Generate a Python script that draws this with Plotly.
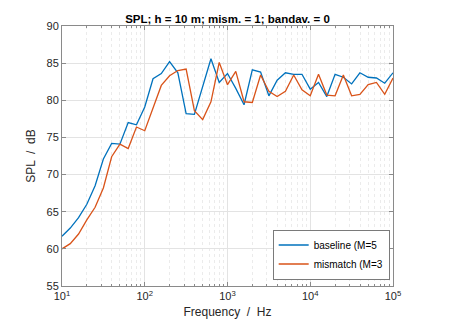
import numpy as np
import plotly.graph_objects as go

# 1/3-octave band centre frequencies, 10 Hz .. 100 kHz
band_exponent = [1 + k / 10 for k in range(41)]
freq = [10 ** e for e in band_exponent]

baseline = [61.7, 62.8, 64.2, 66.0, 68.5, 72.1, 74.2, 74.1, 77.0, 76.7,
            79.1, 82.9, 83.6, 85.2, 83.7, 78.2, 78.1, 81.8, 85.6, 82.4,
            83.6, 81.6, 79.4, 84.1, 83.8, 80.6, 82.7, 83.7, 83.5, 83.5,
            81.5, 82.4, 80.5, 83.5, 83.1, 82.2, 83.7, 83.1, 83.0, 82.3,
            83.7]
mismatch = [60.0, 60.7, 62.0, 63.9, 65.6, 68.2, 72.4, 74.1, 73.5, 76.4,
            75.9, 78.9, 82.0, 83.3, 84.0, 84.2, 78.6, 77.4, 79.8, 85.1,
            82.1, 83.9, 79.8, 79.7, 83.4, 81.2, 80.5, 81.2, 83.4, 81.4,
            80.6, 83.5, 80.7, 80.6, 83.4, 80.6, 80.8, 82.1, 82.4, 80.8,
            83.0]

series_names = ["baseline (M=5", "mismatch (M=3"]
series_colors = ["#0072BD", "#D95319"]

x_tickvals = [10, 100, 1000, 10000, 100000]
x_ticktext = ["10<sup>1</sup>", "10<sup>2</sup>", "10<sup>3</sup>",
              "10<sup>4</sup>", "10<sup>5</sup>"]
x_minor = [m * 10 ** d for d in range(1, 5) for m in range(2, 10)]

fig = go.Figure()
for name, vals, col in zip(series_names, [baseline, mismatch], series_colors):
    fig.add_trace(go.Scatter(x=freq, y=vals, mode="lines", name=name,
                             line=dict(color=col, width=1.3)))

font = "Liberation Sans, Arial, sans-serif"
axcol = "#8a8a8a"

fig.update_layout(
    width=454, height=330,
    margin=dict(l=62, r=61, t=26, b=44),
    paper_bgcolor="white", plot_bgcolor="white",
    font=dict(family=font, size=11, color="#262626"),
    title=dict(text="<b>SPL; h = 10 m; mism. = 1; bandav. = 0</b>",
               x=0.5, xref="paper", xanchor="center",
               y=1, yref="paper", yanchor="bottom", pad=dict(b=3),
               font=dict(family=font, size=11.5, color="#000000")),
    showlegend=True,
    legend=dict(x=0.99, y=0.025, xanchor="right", yanchor="bottom",
                bgcolor="white", bordercolor="#7a7a7a", borderwidth=1,
                font=dict(family=font, size=10, color="#000000"),
                tracegroupgap=0, itemwidth=30),
)

fig.update_xaxes(
    type="log", range=[1, 5],
    tickmode="array", tickvals=x_tickvals, ticktext=x_ticktext,
    ticks="inside", ticklen=4, tickcolor=axcol,
    showline=True, linecolor=axcol, linewidth=1, mirror="ticks",
    showgrid=True, gridcolor="#e3e3e3", gridwidth=1,
    zeroline=False,
    minor=dict(tickmode="array", tickvals=x_minor, ticks="inside",
               ticklen=2, tickcolor=axcol, showgrid=True,
               gridcolor="#ebebeb", griddash="dot", gridwidth=1),
    title=dict(text="Frequency  /  Hz", standoff=6,
               font=dict(family=font, size=12, color="#262626")),
    tickfont=dict(family=font, size=11, color="#262626"),
)
fig.update_yaxes(
    range=[55, 90], dtick=5, tick0=55,
    ticks="inside", ticklen=4, tickcolor=axcol,
    showline=True, linecolor=axcol, linewidth=1, mirror="ticks",
    showgrid=True, gridcolor="#e3e3e3", gridwidth=1,
    zeroline=False,
    title=dict(text="SPL  /  dB", standoff=8,
               font=dict(family=font, size=12, color="#262626")),
    tickfont=dict(family=font, size=11, color="#262626"),
)

fig.write_html("out.html")
